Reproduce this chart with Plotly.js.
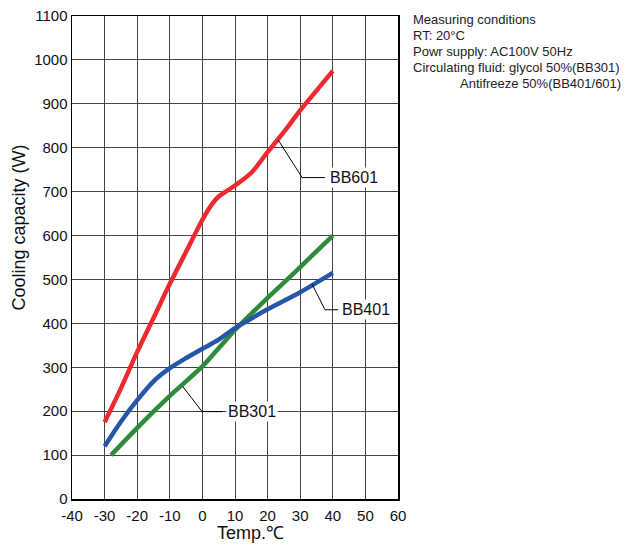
<!DOCTYPE html>
<html><head><meta charset="utf-8">
<script src="https://cdn.plot.ly/plotly-3.0.1.min.js"></script>
<style>body{margin:0;background:#fff}#c{width:626px;height:545px}</style>
</head><body><div id="c"></div>
<script>
// Data
const tempBB601 = [-30, -25, -20, -15, -10, -5, 0, 3, 5, 10, 15, 20, 25, 30, 35, 40];
const capBB601  = [175, 252, 335, 412, 490, 563, 636, 672, 689, 714, 743, 790, 836, 885, 930, 975];

const tempBB401 = [-30, -25, -20, -15, -10, -5, 0, 5, 10, 15, 20, 30, 40];
const capBB401  = [120, 176, 225, 268, 298, 321, 342, 363, 389, 411, 432, 471, 515];

const tempBB301 = [-28, -20, -10, 0, 10, 20, 30, 40];
const capBB301  = [100, 162, 235, 302, 385, 458, 528, 600];

const xTicks = [-40, -30, -20, -10, 0, 10, 20, 30, 40, 50, 60];
const xTickLabels = ["-40", "-30", "-20", "-10", "0", "10", "20", "30", "40", "50", "60"];
const yTicks = [0, 100, 200, 300, 400, 500, 600, 700, 800, 900, 1000, 1100];

const conditionLines = [
  "Measuring conditions",
  "RT: 20°C",
  "Powr supply: AC100V 50Hz",
  "Circulating fluid: glycol 50%(BB301)",
  "Antifreeze 50%(BB401/601)"
];

const FONT = "Liberation Sans, Arial, sans-serif";

const traces = [
  {x: tempBB601, y: capBB601, name: "BB601", mode: "lines", line: {color: "#ee2a2e", width: 4.5, shape: "spline", smoothing: 0.8}},
  {x: tempBB301, y: capBB301, name: "BB301", mode: "lines", line: {color: "#2f8a3e", width: 4.5, shape: "spline", smoothing: 0.6}},
  {x: tempBB401, y: capBB401, name: "BB401", mode: "lines", line: {color: "#2756a8", width: 4.5, shape: "spline", smoothing: 0.8}}
];

const leader = (pts) => pts.slice(0, -1).map((p, i) => ({
  type: "line", xref: "x", yref: "y", layer: "above",
  x0: p[0], y0: p[1], x1: pts[i + 1][0], y1: pts[i + 1][1],
  line: {color: "#000", width: 1}
}));

const shapes = [].concat(
  leader([[23.2, 818], [30.6, 732], [37.6, 732]]),
  leader([[33.6, 490], [37.6, 431], [41.6, 431]]),
  leader([[-6.0, 256], [-0.1, 199], [6.2, 199]])
);

const labelAnn = (text, x, y) => ({
  text: text, x: x, y: y, xref: "x", yref: "y", xanchor: "left", yanchor: "middle",
  showarrow: false, bgcolor: "#fff", borderpad: 1,
  font: {family: FONT, size: 16, color: "#111"}
});

const annotations = [
  labelAnn("BB601", 38.6, 732),
  labelAnn("BB401", 42.3, 431),
  labelAnn("BB301", 7.2, 199),
  {text: "Temp.℃", x: 14.6, y: -0.07, xref: "x", yref: "paper", xanchor: "center", yanchor: "middle",
   showarrow: false, font: {family: FONT, size: 18, color: "#111"}},
  {text: "Cooling capacity (W)", textangle: -90, xref: "paper", yref: "paper",
   x: (18 - 72) / 326, y: 1 - (228 - 16.5) / 483, xanchor: "center", yanchor: "middle",
   showarrow: false, font: {family: FONT, size: 18, color: "#111"}}
];

const condY = [20, 36, 52, 68, 84];
const condX = [411, 411, 411, 411, 458];
conditionLines.forEach((t, i) => {
  annotations.push({
    text: t, xref: "paper", yref: "paper",
    x: (condX[i] - 72) / 326, y: 1 - (condY[i] - 16.5) / 483,
    xanchor: "left", yanchor: "middle", showarrow: false,
    font: {family: FONT, size: 13, color: "#222"}
  });
});

const layout = {
  width: 626, height: 545,
  margin: {l: 72, r: 228, t: 16, b: 46, pad: 0},
  paper_bgcolor: "#fff", plot_bgcolor: "#fff",
  showlegend: false,
  font: {family: FONT, color: "#111"},
  xaxis: {
    range: [-40, 60], tickvals: xTicks, ticktext: xTickLabels,
    showgrid: true, gridcolor: "#444", gridwidth: 1,
    showline: true, linecolor: "#000", linewidth: 1.5, mirror: true,
    ticks: "", zeroline: false, ticklabelstandoff: 2,
    tickfont: {family: FONT, size: 15, color: "#111"}
  },
  yaxis: {
    range: [0, 1100], tickvals: yTicks,
    showgrid: true, gridcolor: "#444", gridwidth: 1,
    showline: true, linecolor: "#000", linewidth: 1.5, mirror: true,
    ticks: "", zeroline: false,
    tickfont: {family: FONT, size: 15, color: "#111"}
  },
  shapes: shapes,
  annotations: annotations
};

Plotly.newPlot("c", traces, layout, {displayModeBar: false, staticPlot: true});
</script>
</body></html>
